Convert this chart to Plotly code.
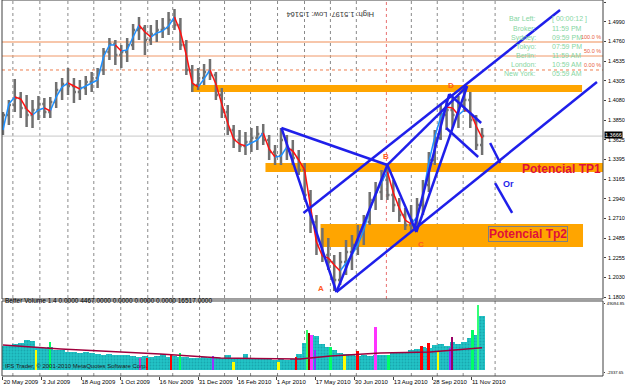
import plotly.graph_objects as go

# ---------------- data ----------------
dates = ["20 May 2009", "3 Jul 2009", "18 Aug 2009", "1 Oct 2009", "16 Nov 2009",
         "31 Dec 2009", "16 Feb 2010", "1 Apr 2010", "17 May 2010", "30 Jun 2010",
         "13 Aug 2010", "28 Sep 2010", "11 Nov 2010"]
date_bars = [0, 33, 66, 99, 132, 165, 198, 231, 264, 297, 330, 363, 396]

price_ticks = [1.5220, 1.4992, 1.4764, 1.4536, 1.4308, 1.4080, 1.3852, 1.3624,
               1.3396, 1.3168, 1.2940, 1.2712, 1.2484, 1.2256, 1.2028, 1.1800]
price_labels = ["1.5220", "1.4990", "1.4760", "1.4535", "1.4305", "1.4080", "1.3850", "1.3625",
                "1.3395", "1.3165", "1.2940", "1.2710", "1.2485", "1.2255", "1.2030", "1.1800"]

# weekly bars (daily bar index, 5 bars each)
week_bar = list(range(0, 410, 5))

opens = [1.3713, 1.3910, 1.4026, 1.4107, 1.3992, 1.3910, 1.3968, 1.4038, 1.3945, 1.4061,
         1.4200, 1.4270, 1.4246, 1.4177, 1.4223, 1.4293, 1.4339, 1.4432, 1.4640, 1.4733,
         1.4606, 1.4640, 1.4722, 1.4896, 1.4919, 1.4780, 1.4849, 1.4896, 1.4919, 1.5011,
         1.4953, 1.4722, 1.4432, 1.4258, 1.4339, 1.4409, 1.4374, 1.4142, 1.3945, 1.3737,
         1.3621, 1.3551, 1.3597, 1.3644, 1.3690, 1.3621, 1.3482, 1.3435, 1.3621, 1.3505,
         1.3412, 1.3273, 1.2983, 1.2670, 1.2404, 1.2288, 1.2207, 1.1998, 1.2207, 1.2323,
         1.2404, 1.2554, 1.2670, 1.2925, 1.3018, 1.3157, 1.2983, 1.2867, 1.2751, 1.2635,
         1.2693, 1.2867, 1.3099, 1.3389, 1.3644, 1.3910, 1.3968, 1.3910, 1.4026, 1.4084,
         1.3852, 1.3563]
highs = [1.3945, 1.4084, 1.4328, 1.4177, 1.4142, 1.4084, 1.4131, 1.4107, 1.4119, 1.4293,
         1.4339, 1.4455, 1.4339, 1.4316, 1.4362, 1.4409, 1.4455, 1.4687, 1.4803, 1.4780,
         1.4722, 1.4803, 1.4965, 1.5046, 1.4953, 1.4953, 1.5011, 1.5035, 1.5104, 1.5139,
         1.5035, 1.4780, 1.4490, 1.4455, 1.4501, 1.4559, 1.4409, 1.4223, 1.4026, 1.3794,
         1.3737, 1.3713, 1.3760, 1.3783, 1.3806, 1.3679, 1.3563, 1.3760, 1.3679, 1.3621,
         1.3505, 1.3354, 1.3041, 1.2751, 1.2601, 1.2485, 1.2288, 1.2323, 1.2462, 1.2520,
         1.2635, 1.2751, 1.3018, 1.3134, 1.3273, 1.3331, 1.3157, 1.2948, 1.2833, 1.2867,
         1.2948, 1.3157, 1.3482, 1.3737, 1.4026, 1.4084, 1.4107, 1.4131, 1.4258, 1.4177,
         1.3910, 1.3760]
lows = [1.3679, 1.3794, 1.3945, 1.3876, 1.3771, 1.3760, 1.3852, 1.3876, 1.3876, 1.3992,
        1.4084, 1.4142, 1.4049, 1.4084, 1.4142, 1.4177, 1.4223, 1.4374, 1.4548, 1.4490,
        1.4455, 1.4525, 1.4664, 1.4780, 1.4606, 1.4722, 1.4756, 1.4803, 1.4838, 1.4896,
        1.4664, 1.4374, 1.4177, 1.4200, 1.4258, 1.4316, 1.4084, 1.3876, 1.3679, 1.3528,
        1.3482, 1.3447, 1.3482, 1.3505, 1.3563, 1.3389, 1.3331, 1.3331, 1.3389, 1.3331,
        1.3215, 1.2925, 1.2543, 1.2288, 1.2207, 1.2114, 1.1871, 1.1940, 1.2056, 1.2114,
        1.2288, 1.2404, 1.2635, 1.2809, 1.2925, 1.2925, 1.2786, 1.2670, 1.2578, 1.2554,
        1.2601, 1.2751, 1.3018, 1.3331, 1.3621, 1.3737, 1.3760, 1.3760, 1.3945, 1.3760,
        1.3505, 1.3447]
closes = [1.3910, 1.4026, 1.4107, 1.3992, 1.3910, 1.3968, 1.4038, 1.3945, 1.4061, 1.4200,
          1.4270, 1.4246, 1.4177, 1.4223, 1.4293, 1.4339, 1.4432, 1.4640, 1.4733, 1.4606,
          1.4640, 1.4722, 1.4896, 1.4919, 1.4780, 1.4849, 1.4896, 1.4919, 1.5011, 1.4953,
          1.4722, 1.4432, 1.4258, 1.4339, 1.4409, 1.4374, 1.4142, 1.3945, 1.3737, 1.3621,
          1.3551, 1.3597, 1.3644, 1.3690, 1.3621, 1.3482, 1.3435, 1.3621, 1.3505, 1.3412,
          1.3273, 1.2983, 1.2670, 1.2404, 1.2288, 1.2207, 1.1998, 1.2207, 1.2323, 1.2404,
          1.2554, 1.2670, 1.2925, 1.3018, 1.3157, 1.2983, 1.2867, 1.2751, 1.2635, 1.2693,
          1.2867, 1.3099, 1.3389, 1.3644, 1.3910, 1.3968, 1.3910, 1.4026, 1.4084, 1.3852,
          1.3563, 1.3666]
ma = [1.3737, 1.4038, 1.4119, 1.4096, 1.3980, 1.3910, 1.3968, 1.3992, 1.3957, 1.4119,
      1.4235, 1.4281, 1.4246, 1.4212, 1.4246, 1.4281, 1.4316, 1.4583, 1.4722, 1.4722,
      1.4652, 1.4664, 1.4814, 1.4953, 1.4872, 1.4814, 1.4861, 1.4884, 1.4942, 1.5046,
      1.4872, 1.4606, 1.4281, 1.4235, 1.4328, 1.4432, 1.4270, 1.4038, 1.3818, 1.3632,
      1.3574, 1.3551, 1.3586, 1.3621, 1.3702, 1.3516, 1.3424, 1.3435, 1.3540, 1.3493,
      1.3389, 1.3273, 1.2844, 1.2438, 1.2276, 1.2253, 1.2172, 1.2102, 1.2195, 1.2288,
      1.2404, 1.2578, 1.2809, 1.2983, 1.3134, 1.3250, 1.3006, 1.2833, 1.2693, 1.2647,
      1.2728, 1.2972, 1.3366, 1.3655, 1.3887, 1.4003, 1.3992, 1.3910, 1.3968, 1.3945,
      1.3783, 1.3644]
current_price = 1.3666

volume = [17800, 18500, 19000, 20000, 22000, 21500, 16500, 16000, 17000, 14800,
          14500, 13500, 13000, 12600, 13000, 12300, 12000, 11200, 11500, 11000,
          10800, 11200, 10000, 9800, 10500, 9600, 10200, 11500, 9500, 10000,
          9300, 9600, 9000, 8900, 9500, 8800, 9200, 8600, 10800, 9000,
          8400, 11500, 8800, 8200, 8500, 7800, 7500, 8000, 7400, 8200,
          12000, 20000, 26000, 25000, 19000, 17000, 15000, 12500, 12000, 11500,
          10500, 11000, 10000, 10800, 11200, 11000, 12500, 13500, 13000, 14500,
          15500, 17000, 16500, 18500, 19500, 17500, 21000, 19000, 20500, 23500,
          26000, 40000]
spike_bar = [28, 40, 116, 122, 142, 150, 178, 195, 233, 248, 257, 259, 261, 264, 277,
             289, 300, 315, 326, 354, 360, 368, 378, 380, 397, 402]
spike_vol = [14800, 20800, 8800, 8800, 11100, 12600, 10300, 5900, 5900, 9600, 29700, 27500,
             26000, 14800, 17000, 11000, 14100, 31900, 11000, 17800, 20000, 13300, 16300,
             24500, 29700, 48300]
spike_color = ['#FFFF00', '#00FF66', '#CC33CC', '#FF0000', '#FF0000', '#00FF66', '#9933FF',
               '#FFFF00', '#FFFF00', '#FF0000', '#33FF66', '#990000', '#FF33FF', '#8833FF',
               '#00FF66', '#FFFF00', '#FF0000', '#FF33FF', '#00FF66', '#FF0000', '#FF0000',
               '#FFFF00', '#8833FF', '#990066', '#00FF66', '#33FF77']
vma_bar = [0, 49, 83, 133, 184, 226, 251, 277, 319, 361, 405]
vma = [18533, 15552, 14061, 11825, 8843, 8098, 8098, 10334, 12570, 13316, 16517]
vol_ticks = [49094.85, -2337.65]
vol_labels = ["49094.85", "-2337.65"]

# zones (orange bands)
zone_x0 = [160.3, 221.9, 268.4]
zone_x1 = [489.5, 507.2, 490.3]
zone_lo = [1.4177, 1.3250, 1.2380]
zone_hi = [1.4258, 1.3354, 1.2647]

fib_levels = [1.4756, 1.4594, 1.4432]
fib_labels = ["100.0 %", "50.0 %", "0.00 %"]

# harmonic pattern points
pts = {"X": (235.4, 1.3760), "A": (281.9, 1.1859), "B": (324.9, 1.3331),
       "C": (349.4, 1.2554), "D": (392.4, 1.4246)}
extra_lines = [((254.0, 1.2775), (470.9, 1.5127)),   # upper channel
               ((281.9, 1.1859), (502.1, 1.4293)),   # lower channel
               ((347.7, 1.2601), (377.2, 1.4154)),
               ((377.2, 1.4154), (404.2, 1.3818)),
               ((374.7, 1.3760), (401.7, 1.3424)),
               ((411.8, 1.3586), (420.3, 1.3354)),
               ((416.0, 1.3122), (430.4, 1.2775))]
pattern_edges = [("X", "A"), ("A", "B"), ("X", "B"), ("B", "C"), ("C", "D"), ("B", "D")]
letter_pos = {"A": (269.2, 1.1905), "B": (324.1, 1.3424), "C": (353.6, 1.2415), "D": (378.9, 1.4258)}

grid_bars = [8.4, 31.2, 54.9, 76.8, 99.6, 122.4, 143.5, 166.2, 187.3, 209.3, 232.1,
             254.9, 276.8, 298.7, 345.2, 367.1, 389.0, 416.0]
separator_bar = 324.1

clock_names = ["Bar Left:", "Broker:", "Sydney:", "Tokyo:", "Berlin:", "London:", "New York:"]
clock_values = ["[ 00:00:12 ]", "11:59 PM", "09:59 PM", "07:59 PM", "11:59 AM", "10:59 AM", "05:59 AM"]

# ---------------- figure ----------------
FONT = "Liberation Sans, Arial, sans-serif"
fig = go.Figure()

fig.add_trace(go.Ohlc(x=week_bar, open=opens, high=highs, low=lows, close=closes,
                      increasing=dict(line=dict(color='#707070', width=2.5)),
                      decreasing=dict(line=dict(color='#707070', width=2.5)),
                      tickwidth=0.35, hoverinfo='skip', showlegend=False,
                      xaxis='x', yaxis='y'))

rx, ry, bx, by = [], [], [], []
for i in range(len(ma) - 1):
    sx = [week_bar[i], week_bar[i + 1], None]
    sy = [ma[i], ma[i + 1], None]
    if ma[i + 1] < ma[i]:
        rx += sx; ry += sy
    else:
        bx += sx; by += sy
fig.add_trace(go.Scatter(x=bx, y=by, mode='lines', line=dict(color='#1E90FF', width=1.5),
                         hoverinfo='skip', yaxis='y'))
fig.add_trace(go.Scatter(x=rx, y=ry, mode='lines', line=dict(color='#FF1010', width=1.5),
                         hoverinfo='skip', yaxis='y'))

# blue pattern lines
lx, ly = [], []
for a, b in pattern_edges:
    lx += [pts[a][0], pts[b][0], None]
    ly += [pts[a][1], pts[b][1], None]
for p0, p1 in extra_lines:
    lx += [p0[0], p1[0], None]
    ly += [p0[1], p1[1], None]
fig.add_trace(go.Scatter(x=lx, y=ly, mode='lines', line=dict(color='#1F1FEA', width=2.5),
                         hoverinfo='skip', yaxis='y'))

# volume
fig.add_trace(go.Bar(x=week_bar, y=volume, width=5, yaxis='y2', hoverinfo='skip',
                     marker=dict(color='#22C3C6', line=dict(width=0),
                                 pattern=dict(shape='.', fgcolor='#0F8C96', size=3, solidity=0.3))))
fig.add_trace(go.Bar(x=spike_bar, y=spike_vol, width=1.6, yaxis='y2', hoverinfo='skip',
                     marker=dict(color=spike_color, line=dict(width=0))))
fig.add_trace(go.Scatter(x=vma_bar, y=vma, mode='lines', line=dict(color='#A0003C', width=1.5),
                         hoverinfo='skip', yaxis='y2'))

shapes = []
for gx in grid_bars:
    shapes.append(dict(type='line', xref='x', yref='paper', x0=gx, x1=gx, y0=0, y1=1,
                       line=dict(color='#8a8a8a', width=1, dash='dot'), layer='below'))
shapes.append(dict(type='line', xref='x', yref='y domain', x0=separator_bar, x1=separator_bar,
                   y0=0, y1=1, line=dict(color='#E87070', width=1, dash='dot'), layer='below'))
for lvl, w, d, c in zip(fib_levels, [2, 1, 1], ['solid', 'solid', 'dot'], ['#F7C6AA', '#F09868', '#EE7E4E']):
    shapes.append(dict(type='line', xref='paper', yref='y', x0=0, x1=1, y0=lvl, y1=lvl,
                       line=dict(color=c, width=w, dash=d), layer='below'))
shapes.append(dict(type='line', xref='paper', yref='y', x0=0, x1=1, y0=current_price, y1=current_price,
                   line=dict(color='#C8C8C8', width=1), layer='below'))
for x0, x1, lo, hi in zip(zone_x0, zone_x1, zone_lo, zone_hi):
    shapes.append(dict(type='rect', xref='x', yref='y', x0=x0, x1=x1, y0=lo, y1=hi,
                       fillcolor='#FFA500', line=dict(width=0), layer='below'))
shapes.append(dict(type='rect', xref='paper', yref='y domain', x0=0, x1=1, y0=0, y1=1,
                   line=dict(color='#404040', width=1)))
shapes.append(dict(type='rect', xref='paper', yref='y2 domain', x0=0, x1=1, y0=0, y1=1,
                   line=dict(color='#404040', width=1)))

ann = []
for k, (x, y) in letter_pos.items():
    ann.append(dict(x=x, y=y, xref='x', yref='y', text='<b>%s</b>' % k, showarrow=False,
                    font=dict(family=FONT, size=8, color='#FF5A1E')))
ann.append(dict(x=427.0, y=1.3111, xref='x', yref='y', text='<b>Or</b>', showarrow=False,
                font=dict(family=FONT, size=9, color='#1F1FEA')))
ann.append(dict(x=471.7, y=1.3285, xref='x', yref='y', text='<b>Potencial TP1</b>', showarrow=False,
                font=dict(family=FONT, size=12, color='#E0103A')))
ann.append(dict(x=443.9, y=1.2531, xref='x', yref='y', text='<b>Potencial Tp2</b>', showarrow=False,
                font=dict(family=FONT, size=12, color='#E0103A'), bordercolor='#808080',
                borderwidth=1, borderpad=0))
for lvl, lab in zip(fib_levels, fib_labels):
    ann.append(dict(x=1, y=lvl, xref='paper', yref='y', text=lab, showarrow=False,
                    xanchor='right', yanchor='bottom', font=dict(family=FONT, size=5.5, color='#E8603C')))
ann.append(dict(x=1, y=current_price, xref='paper', yref='y', text='1.3666', showarrow=False,
                xanchor='left', xshift=1, yshift=1, bgcolor='black', borderpad=0,
                font=dict(family=FONT, size=5.5, color='white')))
row_y = [0.9654, 0.9388, 0.9149, 0.8910, 0.8670, 0.8431, 0.8191]
for name, val, yy in zip(clock_names, clock_values, row_y):
    ann.append(dict(x=0.8918, y=yy, xref='paper', yref='paper', text=name, showarrow=False,
                    xanchor='right', font=dict(family=FONT, size=7, color='#86D6A2')))
    ann.append(dict(x=0.9118, y=yy, xref='paper', yref='paper', text=val, showarrow=False,
                    xanchor='left', font=dict(family=FONT, size=7, color='#86D6A2')))
ann.append(dict(x=0.5458, y=0.9787, xref='paper', yref='paper', text='High: 1.5197  Low: 1.5164',
                textangle=180, showarrow=False, font=dict(family=FONT, size=7.5, color='#333333')))
ann.append(dict(x=0.002, y=0.1862, xref='paper', yref='paper', xanchor='left',
                text='Better Volume 1.4 0.0000 4467.0000 0.0000 0.0000 0.0000 16517.0000',
                showarrow=False, font=dict(family=FONT, size=6.5, color='black')))
ann.append(dict(x=0.002, y=0.0133, xref='paper', yref='paper', xanchor='left',
                text='IFS Trader, © 2001-2010 MetaQuotes Software Corp.',
                showarrow=False, font=dict(family=FONT, size=6, color='#202020')))

fig.update_layout(
    width=625, height=387, margin=dict(l=2, r=22, t=0, b=11, autoexpand=False),
    paper_bgcolor='white', plot_bgcolor='white', showlegend=False,
    barmode='overlay', bargap=0,
    font=dict(family=FONT, size=6, color='black'),
    shapes=shapes, annotations=ann,
    xaxis=dict(range=[-0.8, 507.2], anchor='y2', tickvals=date_bars, ticktext=dates,
               ticks='outside', ticklen=3, tickcolor='#404040', ticklabelposition='outside right',
               tickangle=0, automargin=False,
               showgrid=False, zeroline=False, showline=False, tickfont=dict(size=6),
               rangeslider=dict(visible=False), fixedrange=True),
    yaxis=dict(domain=[0.2048, 1], range=[1.17778, 1.52432], side='right', anchor='x',
               tickvals=price_ticks, ticktext=price_labels, ticks='outside', ticklen=2,
               automargin=False, ticklabelstandoff=1,
               tickcolor='#404040', showgrid=False, zeroline=False, tickfont=dict(size=5.5)),
    yaxis2=dict(domain=[0, 0.1995], range=[-4574, 51331], side='right', anchor='x',
                tickvals=vol_ticks, ticktext=vol_labels, ticks='outside', ticklen=1,
                automargin=False, ticklabelstandoff=1,
                tickcolor='#404040', showgrid=False, zeroline=False, tickfont=dict(size=4.2)),
)

fig.write_html("out.html")
